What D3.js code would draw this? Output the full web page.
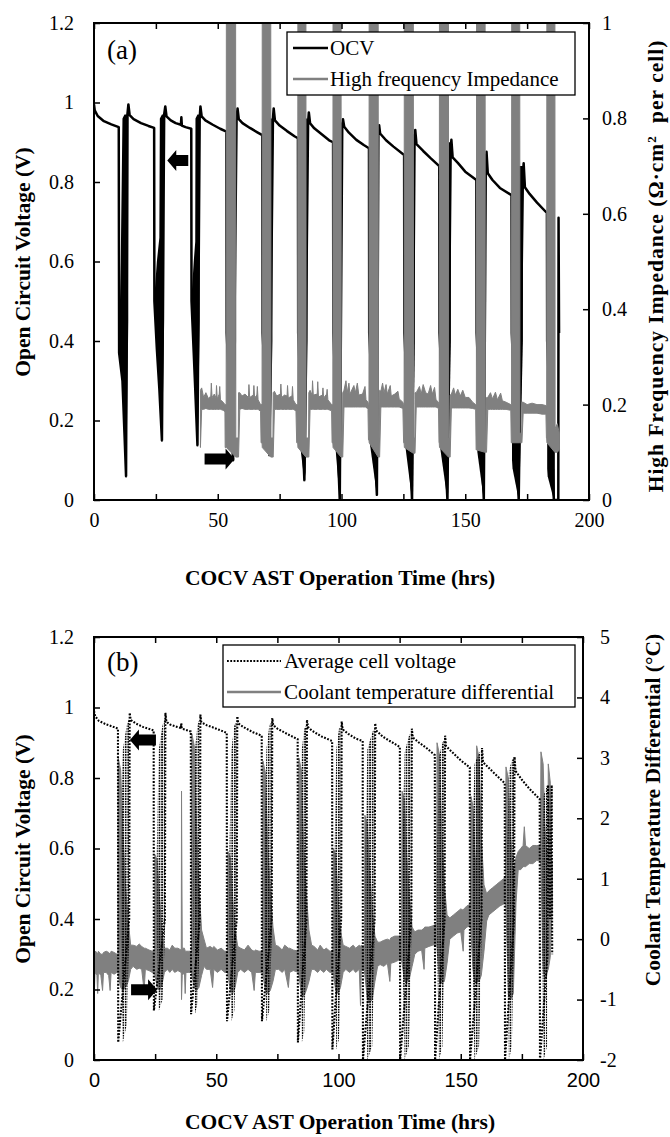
<!DOCTYPE html>
<html>
<head>
<meta charset="utf-8">
<script src="https://cdn.jsdelivr.net/npm/d3@7/dist/d3.min.js"></script>
<style>
  html, body { margin: 0; padding: 0; background: #fff; }
  svg { display: block; }
</style>
</head>
<body>
<svg id="fig" width="670" height="1137"></svg>
<script>
// ---------- ticks and labels ----------
const timeTicks = [0, 25, 50, 75, 100, 125, 150, 175, 200];
const timeLabelTicks = [0, 50, 100, 150, 200];
const voltTicks = [0, 0.2, 0.4, 0.6, 0.8, 1, 1.2];
const voltLabels = ['0', '0.2', '0.4', '0.6', '0.8', '1', '1.2'];
const hfiTicks = [0, 0.2, 0.4, 0.6, 0.8, 1];
const hfiLabels = ['0', '0.2', '0.4', '0.6', '0.8', '1'];
const tempTicks = [-2, -1, 0, 1, 2, 3, 4, 5];
const tempLabels = ['-2', '-1', '0', '1', '2', '3', '4', '5'];

const xTitle = 'COCV AST Operation Time (hrs)';
const yTitleLeft = 'Open Circuit Voltage (V)';
const yTitleRightA = ['High Frequency Impedance (\u03A9\u00B7cm', '2', ' per cell)'];
const yTitleRightB = 'Coolant Temperature Differential (\u00B0C)';
const legendA = ['OCV', 'High frequency Impedance'];
const legendB = ['Average cell voltage', 'Coolant temperature differential'];
const panelTags = ['(a)', '(b)'];

// ---------- panel (a): OCV trace [hrs, V] ----------
const ocvA = [
  [0,0.995],[0.3,0.98],[1.5,0.966],[4,0.953],[7,0.945],[10,0.938],
  [10.15,0.37],[11.5,0.3],[12.3,0.17],[12.95,0.06],[13.5,0.97],[13.9,0.995],[14.4,0.968],[16,0.958],[19,0.948],[22,0.941],[24.3,0.936],
  [24.4,0.5],[25.4,0.38],[26.4,0.28],[27.45,0.15],[28.35,0.97],[28.8,0.99],[29.3,0.965],[31,0.955],[33,0.948],[35.1,0.944],[35.3,0.963],[35.5,0.942],[37,0.938],[39.3,0.934],
  [39.4,0.5],[40.3,0.37],[40.9,0.28],[41.8,0.138],[42.7,0.96],[43.0,0.99],[43.5,0.965],[45,0.955],[48,0.944],[51,0.934],[53.5,0.927],
  [53.6,0.42],[56.2,0.1],[57.6,0.96],[58.0,0.985],[58.5,0.958],[60,0.948],[63,0.936],[66,0.925],[68.0,0.918],
  [68.1,0.42],[70.9,0.113],[72.3,0.96],[72.6,0.985],[73.1,0.955],[75,0.942],[78,0.928],[81,0.915],[82.4,0.91],
  [82.5,0.42],[85.0,0.05],[86.5,0.95],[86.8,0.975],[87.3,0.948],[89,0.935],[92,0.92],[95,0.905],[96.6,0.9],
  [96.7,0.42],[99.3,0.0],[100.3,0.94],[100.6,0.958],[101.1,0.939],[103,0.924],[106,0.906],[109,0.893],[111.1,0.885],
  [111.2,0.42],[114.3,0.013],[114.9,0.92],[115.2,0.943],[115.6,0.922],[118,0.905],[121,0.889],[125.3,0.868],
  [125.4,0.42],[128.5,0.0],[129.5,0.9],[129.8,0.931],[130.3,0.895],[133,0.878],[136,0.86],[139.5,0.84],
  [139.6,0.42],[142.8,0.0],[144.1,0.88],[144.4,0.906],[144.9,0.862],[147,0.848],[150,0.826],[154.5,0.805],
  [154.6,0.42],[157.5,0.0],[158.3,0.85],[158.6,0.876],[159.1,0.822],[161,0.805],[164,0.785],[168.7,0.767],
  [168.8,0.42],[171.6,0.0],[173.3,0.82],[173.6,0.847],[174.1,0.787],[176,0.77],[179,0.748],[183.0,0.722],
  [183.1,0.4],[185.8,0.0],[187.6,0.0],[187.7,0.71],[187.9,0.42]
];

// dense oscillation during each shutdown, as [hrs, low V, high V]
const ocvWedgesA = [
  [[10.25,0.36,0.42],[10.8,0.33,0.6],[11.5,0.3,0.96],[12.3,0.17,0.97],[12.95,0.06,0.97],[13.2,0.12,0.97],[13.85,0.45,0.97]],
  [[24.5,0.47,0.52],[25.4,0.38,0.6],[26.4,0.28,0.66],[26.6,0.27,0.96],[27.45,0.15,0.97],[27.7,0.2,0.97],[28.35,0.45,0.97]],
  [[39.5,0.47,0.52],[40.3,0.37,0.6],[40.9,0.28,0.65],[41.0,0.27,0.96],[41.8,0.138,0.97],[42.1,0.2,0.97],[42.7,0.45,0.97]],
  [[53.7,0.42,0.5],[54.6,0.3,0.7],[54.8,0.28,0.95],[56.2,0.1,0.96],[56.6,0.12,0.96],[57.4,0.4,0.96]],
  [[68.2,0.42,0.5],[69.1,0.3,0.7],[69.3,0.28,0.95],[70.9,0.113,0.96],[71.3,0.13,0.96],[72.1,0.4,0.96]],
  [[82.6,0.42,0.5],[82.9,0.15,0.7],[83.2,0.14,0.95],[85.0,0.05,0.96],[85.5,0.07,0.96],[86.3,0.4,0.96]],
  [[96.8,0.42,0.5],[97.0,0.18,0.7],[97.2,0.16,0.95],[99.3,0.0,0.95],[99.7,0.02,0.95],[100.2,0.4,0.95]],
  [[111.3,0.16,0.5],[111.5,0.14,0.93],[114.3,0.013,0.93],[114.7,0.03,0.93],[115.0,0.4,0.93]],
  [[125.5,0.16,0.5],[125.7,0.14,0.92],[128.5,0.0,0.92],[128.9,0.02,0.92],[129.6,0.4,0.92]],
  [[139.7,0.15,0.5],[139.9,0.13,0.9],[142.8,0.0,0.9],[143.1,0.02,0.9],[144.2,0.4,0.9]],
  [[154.7,0.14,0.5],[154.9,0.12,0.87],[157.5,0.0,0.87],[157.8,0.02,0.87],[158.4,0.4,0.87]],
  [[168.9,0.1,0.5],[169.1,0.08,0.84],[171.6,0.0,0.84],[171.9,0.02,0.84],[173.3,0.4,0.84]],
  [[183.1,0.08,0.5],[183.3,0.06,0.72],[185.8,0.0,0.72],[186.2,0.0,0.5]]
];

// high frequency impedance envelope [hrs, low, high] in ohm*cm2 per cell
const hfiA = [
  [43.0,0.11,0.23],[43.5,0.19,0.235],[44.3,0.19,0.215],[45.2,0.192,0.225],[46.2,0.19,0.213],[47.2,0.19,0.218],[47.4,0.19,0.245],[47.7,0.19,0.215],[48.6,0.19,0.222],[49.3,0.19,0.214],[49.5,0.19,0.24],[49.8,0.19,0.212],[50.6,0.19,0.222],[50.8,0.19,0.238],[51.1,0.19,0.21],[52.2,0.188,0.205],[52.9,0.185,0.2],
  [53.0,0.11,0.2],[53.4,0.11,0.2],[53.5,0.11,1.3],[57.2,0.09,1.3],[57.3,0.09,0.13],[58.3,0.09,0.13],[58.4,0.09,0.225],[58.9,0.19,0.225],
  [59.8,0.192,0.218],[61,0.19,0.222],[62.4,0.19,0.215],[62.6,0.19,0.242],[62.9,0.19,0.215],[64.4,0.19,0.22],[64.6,0.19,0.24],[64.9,0.19,0.214],[65.8,0.19,0.22],[66,0.19,0.238],[66.3,0.19,0.21],[67.3,0.186,0.2],
  [67.5,0.12,0.2],[67.9,0.12,0.2],[68.0,0.11,1.3],[71.4,0.09,1.3],[71.5,0.09,0.13],[72.3,0.09,0.13],[72.4,0.09,0.225],[72.9,0.19,0.228],
  [73.8,0.19,0.218],[75.3,0.19,0.222],[75.5,0.19,0.243],[75.8,0.19,0.215],[77,0.19,0.22],[78.0,0.19,0.218],[78.2,0.19,0.24],[78.5,0.19,0.214],[80,0.19,0.218],[80.2,0.19,0.238],[80.5,0.19,0.21],[81.6,0.187,0.2],
  [81.9,0.12,0.2],[82.3,0.12,0.2],[82.4,0.11,1.3],[85.6,0.09,1.3],[85.7,0.09,0.13],[86.7,0.09,0.13],[86.8,0.09,0.225],[87.3,0.19,0.23],
  [88.1,0.19,0.22],[88.3,0.19,0.25],[88.6,0.19,0.22],[90.2,0.19,0.222],[90.4,0.19,0.248],[90.7,0.19,0.216],[92.3,0.19,0.22],[92.5,0.19,0.235],[92.8,0.19,0.214],[94,0.19,0.222],[94.2,0.19,0.232],[94.5,0.19,0.21],[96,0.187,0.2],
  [96.2,0.12,0.2],[96.5,0.12,0.2],[96.6,0.11,1.3],[99.8,0.09,1.3],[99.9,0.09,0.13],[100.4,0.09,0.13],[100.5,0.09,0.225],[101,0.195,0.23],
  [101.8,0.195,0.25],[102.3,0.195,0.225],[103,0.195,0.245],[103.4,0.195,0.222],[105,0.195,0.24],[105.6,0.195,0.225],[106.4,0.195,0.245],[107,0.195,0.22],[108.5,0.195,0.222],[109.5,0.195,0.238],[109.9,0.195,0.21],[110.7,0.19,0.205],
  [110.9,0.126,0.2],[111.1,0.126,0.2],[111.2,0.12,1.3],[114.8,0.09,1.3],[114.9,0.09,0.13],[115.3,0.09,0.13],[115.4,0.09,0.23],[115.9,0.195,0.228],
  [116.6,0.195,0.245],[117.2,0.195,0.225],[118,0.195,0.242],[118.5,0.195,0.222],[119.7,0.195,0.24],[120.1,0.195,0.218],[121.5,0.195,0.222],[122.8,0.195,0.228],[123.3,0.195,0.212],[124.8,0.192,0.205],
  [125.1,0.12,0.2],[125.3,0.12,0.2],[125.4,0.11,1.3],[129.0,0.098,1.3],[129.1,0.098,0.13],[129.6,0.098,0.13],[129.7,0.098,0.225],[130.2,0.195,0.225],
  [131.5,0.195,0.238],[132.2,0.195,0.222],[133,0.195,0.242],[134,0.195,0.225],[135,0.195,0.222],[136,0.195,0.24],[136.7,0.195,0.222],[137.6,0.195,0.236],[138.2,0.195,0.21],[139.2,0.192,0.205],
  [139.4,0.12,0.2],[139.5,0.12,0.2],[139.6,0.11,1.3],[143.2,0.09,1.3],[143.3,0.09,0.13],[143.8,0.09,0.13],[143.9,0.09,0.22],[144.4,0.193,0.222],
  [145.3,0.193,0.235],[146,0.193,0.22],[147,0.193,0.232],[148,0.193,0.218],[149,0.193,0.23],[150,0.193,0.215],[151.5,0.193,0.215],[153,0.192,0.205],[154.2,0.19,0.2],
  [154.4,0.105,0.2],[154.5,0.105,0.2],[154.6,0.105,1.3],[158.0,0.1,1.3],[158.1,0.1,0.13],[158.5,0.1,0.13],[158.6,0.1,0.215],[159.1,0.19,0.215],
  [160.2,0.19,0.225],[161,0.19,0.212],[162.2,0.19,0.226],[163,0.19,0.21],[164.3,0.19,0.224],[165,0.19,0.208],[166.5,0.19,0.205],[168.4,0.188,0.2],
  [168.6,0.12,0.2],[168.7,0.12,0.2],[168.8,0.12,1.3],[172.0,0.12,1.3],[172.1,0.12,0.14],[172.8,0.12,0.14],[172.9,0.12,0.205],[173.4,0.182,0.205],
  [175,0.182,0.2],[177,0.182,0.203],[179,0.182,0.2],[181,0.18,0.2],[182.6,0.18,0.198],
  [182.8,0.13,0.198],[182.9,0.13,0.198],[183.0,0.12,1.3],[186.2,0.1,1.3],[186.3,0.1,0.15],[187.2,0.1,0.16],[188.0,0.105,0.14]
];

// ---------- panel (b): average cell voltage [hrs, V] ----------
const avgVoltB = [
  [0,0.99],[0.5,0.975],[2,0.962],[5,0.952],[8,0.945],[9.8,0.94],
  [9.9,0.05],[14.4,0.4],[14.6,0.985],[15,0.965],[17,0.955],[20,0.945],[24.4,0.935],
  [24.5,0.14],[29.0,0.4],[29.2,0.985],[29.6,0.96],[31,0.952],[34,0.945],[35.6,0.942],[35.7,0.955],[35.9,0.94],[39.6,0.932],
  [39.7,0.13],[43.3,0.4],[43.5,0.98],[43.9,0.958],[46,0.95],[50,0.94],[54.3,0.928],
  [54.4,0.11],[58.4,0.4],[58.6,0.975],[59,0.955],[61,0.945],[65,0.93],[68.6,0.92],
  [68.7,0.11],[72.7,0.4],[72.9,0.97],[73.3,0.95],[75,0.94],[79,0.925],[83.3,0.91],
  [83.4,0.05],[86.9,0.4],[87.1,0.965],[87.5,0.945],[89,0.935],[93,0.918],[97.4,0.905],
  [97.5,0.03],[101.1,0.4],[101.3,0.96],[101.7,0.938],[104,0.925],[107,0.912],[109.9,0.905],
  [110.0,0.0],[114.8,0.4],[115,0.955],[115.4,0.935],[118,0.918],[121,0.905],[125.1,0.888],
  [125.2,0.0],[129.8,0.4],[130,0.94],[130.4,0.915],[133,0.9],[136,0.885],[139.4,0.865],
  [139.5,0.0],[143.4,0.4],[143.6,0.92],[144,0.89],[147,0.87],[150,0.85],[153.7,0.83],
  [153.8,0.0],[158.5,0.4],[158.7,0.885],[159.1,0.845],[162,0.825],[165,0.805],[168,0.785],
  [168.1,0.0],[171.8,0.4],[172,0.86],[172.4,0.82],[175,0.795],[178,0.77],[182.3,0.74],
  [182.4,0.0],[185.5,0.3],[185.7,0.78],[186.5,0.4],[187.2,0.78],[187.4,0.3]
];

// recovery scatter after each shutdown, as [hrs, low V, high V]
const avgVoltWedgesB = [
  [[11.0,0.35,0.6],[11.8,0.05,0.88],[13.4,0.1,0.95],[14.4,0.35,0.97]],
  [[25.7,0.35,0.6],[26.5,0.14,0.88],[28.0,0.17,0.95],[29.0,0.35,0.97]],
  [[40.7,0.35,0.6],[41.3,0.13,0.88],[42.3,0.16,0.95],[43.3,0.35,0.97]],
  [[55.4,0.35,0.6],[56.2,0.11,0.88],[57.4,0.14,0.95],[58.4,0.35,0.96]],
  [[69.7,0.35,0.6],[70.5,0.11,0.88],[71.7,0.14,0.95],[72.7,0.35,0.96]],
  [[84.3,0.35,0.6],[85.0,0.05,0.88],[86.0,0.08,0.94],[86.9,0.35,0.95]],
  [[98.4,0.35,0.6],[99.1,0.03,0.88],[100.2,0.06,0.94],[101.1,0.35,0.95]],
  [[111.0,0.3,0.6],[111.8,0.0,0.88],[113.8,0.04,0.93],[114.8,0.35,0.94]],
  [[126.2,0.3,0.6],[127.0,0.0,0.87],[128.8,0.04,0.92],[129.8,0.35,0.93]],
  [[140.4,0.3,0.6],[141.1,0.0,0.86],[142.5,0.04,0.9],[143.4,0.35,0.91]],
  [[154.8,0.3,0.6],[155.6,0.0,0.84],[157.5,0.04,0.87],[158.5,0.35,0.88]],
  [[169.0,0.3,0.6],[169.7,0.0,0.82],[170.9,0.04,0.85],[171.8,0.35,0.86]],
  [[183.2,0.3,0.6],[183.9,0.0,0.75],[185.3,0.04,0.78]]
];

// coolant temperature differential envelope [hrs, low, high] in degC
const coolantB = [
  [0,-1.1,-0.2],[0.4,-0.55,-0.2],[1.2,-0.6,-0.22],[1.5,-0.9,-0.25],[1.8,-0.55,-0.2],[2.8,-0.6,-0.25],[3.5,-0.85,-0.25],[3.9,-0.55,-0.22],[5,-0.55,-0.2],[6,-0.6,-0.22],[6.6,-0.85,-0.25],[7.0,-0.55,-0.2],[8.2,-0.58,-0.22],[9.4,-0.55,-0.25],
  [9.8,-0.55,-0.25],[9.9,-0.6,3.0],[10.9,-0.8,2.8],[11.8,-0.85,1.8],[12.9,-0.8,0.9],[14.0,-0.7,0.3],[15.0,-0.5,-0.1],
  [16,-0.45,-0.1],[17.5,-0.5,-0.12],[18.5,-0.48,-0.08],[19.5,-0.5,-0.12],[20.5,-0.85,-0.15],[21,-0.5,-0.15],[22.5,-0.52,-0.18],[23.8,-0.55,-0.2],
  [24.8,-0.55,-0.2],[24.9,-0.6,1.4],[25.9,-0.8,1.3],[26.8,-0.85,0.7],[27.8,-0.75,0.1],[28.8,-0.55,-0.15],
  [30,-0.5,-0.15],[31,-0.55,-0.18],[32,-0.5,-0.1],[33,-0.55,-0.15],[34.3,-0.52,-0.15],[35.6,-0.55,-0.18],
  [35.7,-0.55,-0.18],[35.8,-1.0,2.45],[36.1,-0.6,-0.15],[37,-0.55,-0.15],[37.3,-0.9,-0.2],[37.6,-0.55,-0.2],[38.6,-0.55,-0.2],[39.8,-0.55,-0.2],
  [39.9,-0.55,-0.2],[40.0,-0.6,3.4],[41.0,-0.8,3.2],[41.9,-0.85,1.9],[42.9,-0.8,0.9],[44.0,-0.6,0.15],[45,-0.45,0.0],
  [46,-0.5,-0.15],[47.5,-0.5,-0.12],[48.5,-0.8,-0.15],[49,-0.5,-0.12],[50.5,-0.55,-0.18],[52,-0.5,-0.15],[53.5,-0.55,-0.2],[54.6,-0.55,-0.2],
  [54.8,-0.6,1.45],[55.8,-0.85,1.35],[56.7,-0.9,0.7],[57.7,-0.8,0.15],[58.8,-0.55,-0.12],
  [60,-0.5,-0.15],[61.5,-0.55,-0.18],[63,-0.5,-0.1],[64.5,-0.55,-0.18],[65.5,-0.85,-0.2],[66,-0.55,-0.18],[67.5,-0.55,-0.2],[68.9,-0.55,-0.2],
  [69.1,-0.6,2.95],[70.1,-0.85,2.75],[71.0,-0.9,1.6],[72.1,-0.85,0.8],[73.2,-0.7,0.2],[74.2,-0.5,-0.1],
  [75.5,-0.5,-0.12],[77,-0.55,-0.18],[78,-0.5,-0.1],[79.5,-0.8,-0.15],[80,-0.55,-0.15],[81.5,-0.52,-0.18],[83.6,-0.55,-0.2],
  [83.8,-0.6,3.0],[84.8,-0.9,2.8],[85.7,-0.95,1.6],[86.8,-0.85,0.8],[87.9,-0.7,0.15],[89,-0.5,-0.1],
  [90,-0.5,-0.12],[91.5,-0.55,-0.18],[92.5,-0.5,-0.1],[94,-0.55,-0.18],[95,-0.5,-0.15],[96.5,-0.55,-0.2],[97.7,-0.55,-0.2],
  [97.9,-0.6,1.5],[98.9,-0.85,1.4],[99.8,-0.9,0.7],[100.8,-0.8,0.15],[101.9,-0.55,-0.1],
  [103,-0.5,-0.12],[104.5,-0.55,-0.15],[106,-0.5,-0.1],[107,-0.55,-0.15],[108.5,-0.5,-0.1],[109,-1.1,-0.12],[109.3,-0.52,-0.1],[110.6,-0.52,-0.15],
  [110.8,-0.6,2.05],[111.8,-1.0,1.9],[112.7,-1.05,1.2],[113.8,-1.0,0.5],[114.9,-0.7,0.05],[116,-0.45,-0.05],
  [117,-0.42,-0.05],[118.5,-0.45,-0.02],[120,-0.4,0.0],[121,-0.7,-0.02],[121.4,-0.4,0.02],[123,-0.38,0.05],[124.5,-0.35,0.05],[125.8,-0.35,0.05],
  [126.0,-0.4,2.45],[127.0,-0.68,2.3],[127.9,-0.7,1.4],[129.0,-0.65,0.7],[130.1,-0.45,0.2],[131.2,-0.25,0.12],
  [132.5,-0.2,0.15],[134,-0.18,0.15],[135,-0.5,0.18],[135.3,-0.15,0.2],[137,-0.12,0.2],[138.5,-0.1,0.22],[140.1,-0.08,0.25],
  [140.3,-0.15,3.25],[141.3,-0.7,3.05],[142.2,-0.73,1.8],[143.3,-0.7,0.9],[144.4,-0.4,0.4],[145.5,0.0,0.35],
  [147,0.05,0.4],[148.5,0.1,0.45],[150,0.12,0.5],[151,-0.2,0.48],[151.3,0.15,0.5],[152.5,0.2,0.55],[154.0,0.22,0.58],
  [154.2,0.1,2.36],[155.0,-0.5,2.2],[155.8,-0.73,1.4],[156.3,-0.7,1.2],[156.5,-0.7,3.2],[157.5,-0.7,3.0],[158.4,-0.6,1.7],[159.5,-0.2,0.9],[160.6,0.3,0.75],
  [161.5,0.4,0.8],[163,0.45,0.85],[164.5,0.5,0.9],[166,0.55,0.95],[167.5,0.58,1.0],[168.3,0.6,1.0],
  [168.5,0.5,2.85],[169.5,-0.9,2.65],[170.4,-1.0,1.7],[171.5,-0.9,1.1],[172.6,0.6,1.35],[173.5,1.15,1.45],
  [174.5,1.15,1.5],[175.5,1.2,1.55],[176,1.2,1.86],[176.5,1.2,1.55],[178,1.25,1.5],[179.5,1.25,1.55],[181,1.3,1.55],[182.6,1.3,1.55],
  [182.8,1.2,3.1],[183.7,-0.5,2.9],[184.4,-0.68,1.9],[185.0,-0.6,1.5],[185.7,-0.5,1.5],[185.8,-0.5,2.9],[186.6,-0.3,2.6],[187.1,0.2,1.4],[187.5,0.6,1.2]
];

// arrows pointing to the axis each trace belongs to: tip position [hrs, V]
const arrowsA = [{t: 29.6, v: 0.854, dir: -1, len: 21}, {t: 56.8, v: 0.103, dir: 1, len: 30}];
const arrowsB = [{t: 14.7, v: 0.908, dir: -1, len: 26}, {t: 25.8, v: 0.199, dir: 1, len: 26}];

// ---------- drawing ----------
const SERIF = "'Liberation Serif','Times New Roman',serif";
const SANS = "'Liberation Sans',Arial,sans-serif";
const GRAY = '#808080';

const frameA = {left: 94, right: 589, top: 23, bottom: 500};
const frameB = {left: 94, right: 583, top: 637, bottom: 1060};

const xA = d3.scaleLinear().domain([0, 200]).range([frameA.left, frameA.right]);
const yA = d3.scaleLinear().domain([0, 1.2]).range([frameA.bottom, frameA.top]);
const yA2 = d3.scaleLinear().domain([0, 1]).range([frameA.bottom, frameA.top]);
const xB = d3.scaleLinear().domain([0, 200]).range([frameB.left, frameB.right]);
const yB = d3.scaleLinear().domain([0, 1.2]).range([frameB.bottom, frameB.top]);
const yB2 = d3.scaleLinear().domain([-2, 5]).range([frameB.bottom, frameB.top]);

const svg = d3.select('#fig');
const defs = svg.append('defs');
defs.append('pattern').attr('id', 'dotfill').attr('width', 2.6).attr('height', 2.6)
  .attr('patternUnits', 'userSpaceOnUse')
  .append('rect').attr('width', 1.7).attr('height', 1.7).attr('fill', '#000');

function addClip(id, f) {
  defs.append('clipPath').attr('id', id).append('rect')
    .attr('x', f.left).attr('y', f.top)
    .attr('width', f.right - f.left).attr('height', f.bottom - f.top);
}
addClip('clipA', frameA);
addClip('clipB', frameB);

function styleAxis(g, font) {
  g.select('.domain').remove();
  g.selectAll('.tick line').attr('stroke', '#000').attr('stroke-width', 1.5);
  g.selectAll('.tick text').attr('fill', '#000')
    .style('font-family', font).style('font-size', '20px');
}

function labelFrom(ticks, labels) {
  return d => { const i = ticks.indexOf(d); return i >= 0 ? labels[i] : ''; };
}

function drawAxes(f, x, yL, yR, rTicks, rLabels, xFont, rPad) {
  const g = svg.append('g');
  g.append('g').attr('transform', `translate(0,${f.bottom})`)
    .call(d3.axisBottom(x).tickValues(timeTicks).tickSize(-6).tickPadding(13)
      .tickFormat(d => timeLabelTicks.includes(d) ? String(d) : ''))
    .call(a => styleAxis(a, xFont));
  g.append('g').attr('transform', `translate(0,${f.top})`)
    .call(d3.axisTop(x).tickValues(timeTicks).tickSize(-6).tickFormat(''))
    .call(a => styleAxis(a, xFont));
  g.append('g').attr('transform', `translate(${f.left},0)`)
    .call(d3.axisLeft(yL).tickValues(voltTicks).tickSize(-6).tickPadding(20)
      .tickFormat(labelFrom(voltTicks, voltLabels)))
    .call(a => styleAxis(a, SERIF));
  g.append('g').attr('transform', `translate(${f.right},0)`)
    .call(d3.axisRight(yR).tickValues(rTicks).tickSize(-6).tickPadding(rPad)
      .tickFormat(labelFrom(rTicks, rLabels)))
    .call(a => styleAxis(a, SERIF));
  g.append('rect').attr('x', f.left).attr('y', f.top)
    .attr('width', f.right - f.left).attr('height', f.bottom - f.top)
    .attr('fill', 'none').attr('stroke', '#000').attr('stroke-width', 2);
}

function titleText(x, y, rot) {
  return svg.append('text')
    .attr('transform', `translate(${x},${y}) rotate(${rot})`)
    .attr('text-anchor', 'middle').attr('dy', '0.35em')
    .style('font-family', SERIF).style('font-size', '21.5px').style('font-weight', 'bold')
    .attr('fill', '#000');
}

function drawArrows(list, x, y) {
  list.forEach(a => {
    const L = a.len, hl = 9, hh = 10.5, bh = 5.5;
    const pts = [[0,0],[hl,-hh],[hl,-bh],[L,-bh],[L,bh],[hl,bh],[hl,hh]]
      .map(p => [x(a.t) - a.dir * p[0], y(a.v) + p[1]]);
    svg.append('polygon').attr('points', pts.map(p => p.join(',')).join(' ')).attr('fill', '#000');
  });
}

// ----- panel (a) -----
const plotA = svg.append('g').attr('clip-path', 'url(#clipA)');
const bandVA = d3.area().x(d => xA(d[0])).y0(d => yA(d[1])).y1(d => yA(d[2]));
plotA.selectAll('path.wedge').data(ocvWedgesA).join('path').attr('class', 'wedge')
  .attr('d', bandVA).attr('fill', '#000');
plotA.append('path').datum(ocvA)
  .attr('d', d3.line().x(d => xA(d[0])).y(d => yA(d[1])))
  .attr('fill', 'none').attr('stroke', '#000').attr('stroke-width', 2.5).attr('stroke-linejoin', 'round');
plotA.append('path').datum(hfiA)
  .attr('d', d3.area().x(d => xA(d[0])).y0(d => yA2(d[1])).y1(d => yA2(d[2])))
  .attr('fill', GRAY).attr('stroke', GRAY).attr('stroke-width', 1);

drawAxes(frameA, xA, yA, yA2, hfiTicks, hfiLabels, SERIF, 13);
drawArrows(arrowsA, xA, yA);

// legend (a)
svg.append('rect').attr('x', 287).attr('y', 32).attr('width', 288).attr('height', 63)
  .attr('fill', '#fff').attr('stroke', '#000').attr('stroke-width', 1.3);
svg.append('line').attr('x1', 293).attr('x2', 328).attr('y1', 48).attr('y2', 48)
  .attr('stroke', '#000').attr('stroke-width', 2.4);
svg.append('line').attr('x1', 293).attr('x2', 328).attr('y1', 79).attr('y2', 79)
  .attr('stroke', GRAY).attr('stroke-width', 2.4);
legendA.forEach((s, i) => svg.append('text').attr('x', 330).attr('y', 48 + i * 31).attr('dy', '0.35em')
  .style('font-family', SERIF).style('font-size', '21px').text(s));

svg.append('text').attr('x', 107).attr('y', 50).attr('dy', '0.35em')
  .style('font-family', SERIF).style('font-size', '27px').text(panelTags[0]);

titleText(22, 262, -90).text(yTitleLeft);
const rtA = titleText(655, 266, -90).style('letter-spacing', '1px');
rtA.append('tspan').text(yTitleRightA[0]);
rtA.append('tspan').attr('baseline-shift', 'super').style('font-size', '13px').text(yTitleRightA[1]);
rtA.append('tspan').attr('dx', 6).text(yTitleRightA[2]);
titleText(340, 577, 0).text(xTitle);

// ----- panel (b) -----
const plotB = svg.append('g').attr('clip-path', 'url(#clipB)');
plotB.append('path').datum(coolantB)
  .attr('d', d3.area().x(d => xB(d[0])).y0(d => yB2(d[1])).y1(d => yB2(d[2])))
  .attr('fill', GRAY).attr('stroke', GRAY).attr('stroke-width', 1);
plotB.selectAll('path.wedge').data(avgVoltWedgesB).join('path').attr('class', 'wedge')
  .attr('d', d3.area().x(d => xB(d[0])).y0(d => yB(d[1])).y1(d => yB(d[2])))
  .attr('fill', 'url(#dotfill)');
plotB.append('path').datum(avgVoltB)
  .attr('d', d3.line().x(d => xB(d[0])).y(d => yB(d[1])))
  .attr('fill', 'none').attr('stroke', '#000').attr('stroke-width', 2.1)
  .attr('stroke-dasharray', '1.8,1.5');

drawAxes(frameB, xB, yB, yB2, tempTicks, tempLabels, SANS, 17);
drawArrows(arrowsB, xB, yB);

// legend (b)
svg.append('rect').attr('x', 223).attr('y', 645).attr('width', 352).attr('height', 62)
  .attr('fill', '#fff').attr('stroke', '#000').attr('stroke-width', 1.3);
svg.append('line').attr('x1', 227).attr('x2', 281).attr('y1', 661).attr('y2', 661)
  .attr('stroke', '#000').attr('stroke-width', 2.1).attr('stroke-dasharray', '1.8,1.5');
svg.append('line').attr('x1', 227).attr('x2', 281).attr('y1', 692).attr('y2', 692)
  .attr('stroke', GRAY).attr('stroke-width', 2.4);
legendB.forEach((s, i) => svg.append('text').attr('x', 284).attr('y', 661 + i * 31).attr('dy', '0.35em')
  .style('font-family', SERIF).style('font-size', '21px').text(s));

svg.append('text').attr('x', 107).attr('y', 662).attr('dy', '0.35em')
  .style('font-family', SERIF).style('font-size', '27px').text(panelTags[1]);

titleText(22, 849, -90).text(yTitleLeft);
titleText(652, 810, -90).text(yTitleRightB);
titleText(340, 1121, 0).text(xTitle);
</script>
</body>
</html>
